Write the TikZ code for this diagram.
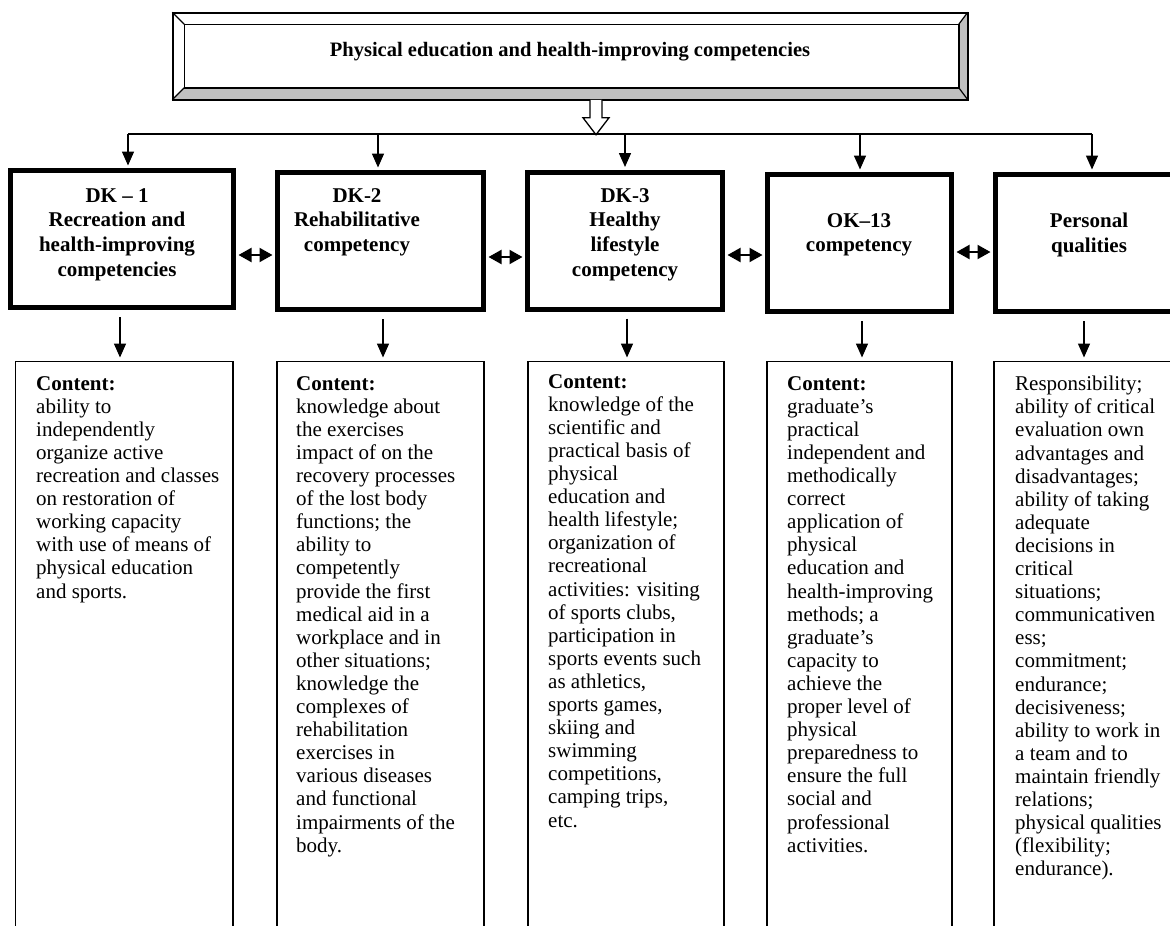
\documentclass[tikz,border=0pt]{standalone}
\usepackage{fontspec}
\setmainfont{Liberation Serif}
\usetikzlibrary{shapes,arrows.meta,positioning,calc}

\definecolor{bevelgray}{RGB}{192,192,192}

\tikzset{
    dkbox/.style={draw, line width=5pt, minimum height=137pt, inner sep=0pt},
    dktext/.style={anchor=north, align=center, inner sep=0pt, font=\bfseries\fontsize{21}{24.7}\selectfont},
    contentbox/.style={draw, line width=1.5pt, anchor=north, minimum height=620pt, inner sep=0pt},
    contenttext/.style={anchor=north west, align=left, inner sep=0pt, font=\fontsize{21}{23.1}\selectfont},
    arr/.style={-{Triangle[length=14pt,width=12pt]}, line width=1.5pt},
    dbl/.style={{Triangle[length=13pt,width=14pt]}-{Triangle[length=13pt,width=14pt]}, line width=2pt}
}

\begin{document}
\begin{tikzpicture}[x=1pt,y=-1pt]
            \useasboundingbox (0,0) rectangle (1170,926);
            \fill[white] (0,0) rectangle (1170,926);
            \clip (0,0) rectangle (1170,926);

            % top frame
            \node[draw, line width=1.5pt, minimum width=794pt, minimum height=86pt, inner sep=0pt] (top) at (570,56) {};
            \node[font=\bfseries\fontsize{20.5}{24}\selectfont, inner sep=0pt] (toptxt) at (570,52) {Physical education and health-improving competencies};
            \fill[bevelgray] (top.south west) -- ($(top.south west)+(12,-12)$) -- ($(top.south east)+(-9,-12)$) -- (top.south east) -- cycle;
            \fill[bevelgray] (top.north east) -- ($(top.north east)+(-9,12)$) -- ($(top.south east)+(-9,-12)$) -- (top.south east) -- cycle;
            \draw[line width=1.5pt] (top.north west) rectangle (top.south east);
            \draw[line width=1.5pt] ($(top.north west)+(12,12)$) rectangle ($(top.south east)+(-9,-12)$);
            \draw[line width=1.2pt] (top.north west) -- ++(12,12);
            \draw[line width=1.2pt] (top.north east) -- ++(-9,12);
            \draw[line width=1.2pt] (top.south west) -- ++(12,-12);
            \draw[line width=1.2pt] (top.south east) -- ++(-9,-12);

            % hollow arrow down to the bus
            \coordinate (bl) at (128,134);
            \coordinate (br) at (1092,134);
            \draw[line width=1.3pt, fill=white] ($(top.south)+(20,0)$) -- ++(0,18) -- ++(-7,0) -- ($(top.south)+(26,0)+(0,35)$) -- ++(13,-17) -- ++(-7,0) -- ++(0,-18);
            \draw[line width=2pt] (bl) -- (br);

            % competency boxes
            \node[dkbox, minimum width=223pt] (dk1) at (122,239) {};
            \node[dkbox, minimum width=206pt] (dk2) at (380.5,241) {};
            \node[dkbox, minimum width=195pt] (dk3) at (625,240.5) {};
            \node[dkbox, minimum width=184pt] (ok13) at (859.5,243) {};
            \node[dkbox, minimum width=189.5pt] (pq) at (1090.25,243) {};

            \node[dktext] (dk1txt) at (117,188) {DK – 1\\Recreation and\\health-improving\\competencies};
            \node[dktext] (dk2txt) at (357,188) {DK-2\\Rehabilitative\\competency};
            \node[dktext] (dk3txt) at (625,188) {DK-3\\Healthy\\lifestyle\\competency};
            \node[dktext] (ok13txt) at (859,213) {OK–13\\competency};
            \node[dktext] (pqtxt) at (1089,213) {Personal\\qualities};

            \foreach \n/\x in {dk1/128, dk2/378, dk3/625, ok13/860, pq/1092}
                \draw[arr, shorten >=2.5pt] (\x,134) -- (\x,0 |- \n.north);

            \foreach \a/\b/\y in {dk1/dk2/255, dk2/dk3/257, dk3/ok13/255, ok13/pq/252}
                \draw[dbl, shorten <=2.5pt, shorten >=2.5pt] (\a.east |- 0,\y) -- (\b.west |- 0,\y);

            % content boxes
            \node[contentbox, minimum width=217.5pt] (dk1c) at (124.25,360.5) {};
            \node[contentbox, minimum width=207pt] (dk2c) at (380.5,360.5) {};
            \node[contentbox, minimum width=196pt] (dk3c) at (626,360.5) {};
            \node[contentbox, minimum width=185pt] (ok13c) at (859.5,360.5) {};
            \node[contentbox, minimum width=190pt] (pqc) at (1089,360.5) {};

            \foreach \n/\x in {dk1/120, dk2/383, dk3/627, ok13/862, pq/1084}
                \draw[arr, shorten <=7pt, shorten >=3pt] (\x,0 |- \n.south) -- (\x,0 |- \n c.north);

            \node[contenttext] (dk1ctxt) at (36,376) {\textbf{Content:}\\ability to\\independently\\organize active\\recreation and classes\\on restoration of\\working capacity\\with use of means of\\physical education\\and sports.};
            \node[contenttext] (dk2ctxt) at (296,376) {\textbf{Content:}\\knowledge about\\the exercises\\impact of on the\\recovery processes\\of the lost body\\functions; the\\ability to\\competently\\provide the first\\medical aid in a\\workplace and in\\other situations;\\knowledge the\\complexes of\\rehabilitation\\exercises in\\various diseases\\and functional\\impairments of the\\body.};
            \node[contenttext] (dk3ctxt) at (548,374) {\textbf{Content:}\\knowledge of the\\scientific and\\practical basis of\\physical\\education and\\health lifestyle;\\organization of\\recreational\\activities: visiting\\of sports clubs,\\participation in\\sports events such\\as athletics,\\sports games,\\skiing and\\swimming\\competitions,\\camping trips,\\etc.};
            \node[contenttext] (ok13ctxt) at (787,376) {\textbf{Content:}\\graduate’s\\practical\\independent and\\methodically\\correct\\application of\\physical\\education and\\health-improving\\methods; a\\graduate’s\\capacity to\\achieve the\\proper level of\\physical\\preparedness to\\ensure the full\\social and\\professional\\activities.};
            \node[contenttext] (pqctxt) at (1015,376) {Responsibility;\\ability of critical\\evaluation own\\advantages and\\disadvantages;\\ability of taking\\adequate\\decisions in\\critical\\situations;\\communicativen\\ess;\\commitment;\\endurance;\\decisiveness;\\ability to work in\\a team and to\\maintain friendly\\relations;\\physical qualities\\(flexibility;\\endurance).};
        \end{tikzpicture}
\end{document}
